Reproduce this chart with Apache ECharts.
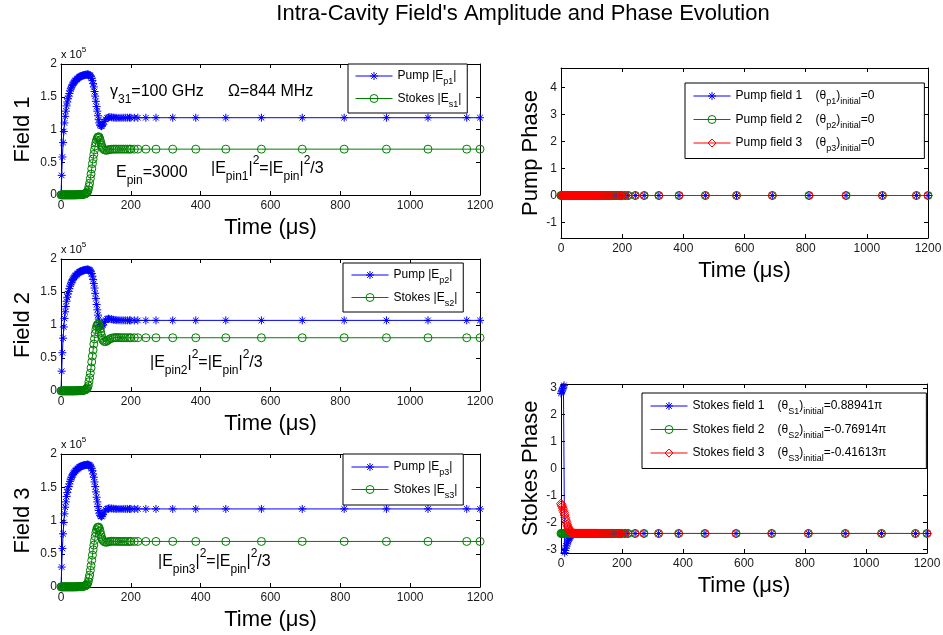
<!DOCTYPE html>
<html><head><meta charset="utf-8">
<script src="https://cdn.jsdelivr.net/npm/echarts@6/dist/echarts.min.js"></script>
<style>html,body{margin:0;padding:0;background:#fff}#c{width:943px;height:635px}</style>
</head><body><div id="c"></div>
<script>
// ---------- data (amplitudes in units of 1e5, phases in rad) ----------
const TIME = [0,2,4,6,8,10,12,14,16,18,
  20,22,24,26,28,30,32,34,36,38,
  40,42,44,46,48,50,52,54,56,58,
  60,62,64,66,68,70,72,74,76,78,
  80,82,84,86,88,90,92,94,96,98,
  100,102,104,106,108,110,112,114,116,118,
  120,124,128,132,136,140,145,150,155,160,
  166,172,178,184,190,196,200,
  210,220,243,272,320,386,472,574,691,811,932,1051,1162,1200];

const PUMP1 = [0,0.3,0.58,0.8,0.97,1.1,1.2,1.28,1.36,1.42,
  1.47,1.51,1.55,1.59,1.62,1.645,1.67,1.69,1.71,1.725,
  1.74,1.75,1.76,1.77,1.78,1.79,1.8,1.805,1.81,1.815,
  1.82,1.825,1.828,1.83,1.833,1.835,1.837,1.838,1.84,1.84,
  1.835,1.83,1.82,1.805,1.78,1.75,1.7,1.65,1.58,1.51,
  1.43,1.35,1.28,1.21,1.15,1.1,1.07,1.055,1.05,1.06,
  1.08,1.12,1.155,1.175,1.185,1.19,1.186,1.182,1.18,1.178,
  1.178,1.179,1.18,1.18,1.18,1.18,1.18,
  1.18,1.18,1.18,1.18,1.18,1.18,1.18,1.18,1.18,1.18,1.18,1.18,1.18,1.18];
const STOKES1 = [0.002,0.002,0.002,0.002,0.002,0.002,0.002,0.002,0.002,0.002,
  0.002,0.002,0.002,0.002,0.002,0.002,0.002,0.002,0.002,0.002,
  0.003,0.003,0.003,0.003,0.004,0.004,0.005,0.005,0.006,0.007,
  0.008,0.009,0.011,0.013,0.016,0.02,0.026,0.035,0.05,0.08,
  0.13,0.18,0.25,0.32,0.4,0.48,0.55,0.62,0.69,0.75,
  0.8,0.84,0.87,0.885,0.89,0.875,0.84,0.8,0.76,0.73,
  0.71,0.69,0.683,0.685,0.69,0.695,0.698,0.7,0.7,0.7,
  0.7,0.7,0.7,0.7,0.7,0.7,0.7,
  0.7,0.7,0.7,0.7,0.7,0.7,0.7,0.7,0.7,0.7,0.7,0.7,0.7,0.7];
const PUMP2 = [0,0.3,0.58,0.8,0.97,1.1,1.2,1.28,1.36,1.42,
  1.47,1.51,1.55,1.59,1.62,1.645,1.67,1.69,1.71,1.725,
  1.74,1.75,1.76,1.77,1.78,1.79,1.8,1.805,1.81,1.815,
  1.82,1.825,1.828,1.83,1.833,1.835,1.837,1.838,1.84,1.84,
  1.835,1.83,1.82,1.805,1.78,1.74,1.69,1.63,1.56,1.48,
  1.4,1.31,1.23,1.15,1.09,1.04,1.0,0.985,0.98,0.99,
  1.0,1.04,1.075,1.09,1.095,1.093,1.087,1.08,1.076,1.073,
  1.072,1.071,1.07,1.07,1.07,1.07,1.07,
  1.07,1.07,1.07,1.07,1.07,1.07,1.07,1.07,1.07,1.07,1.07,1.07,1.07,1.07];
const STOKES2 = [0.002,0.002,0.002,0.002,0.002,0.002,0.002,0.002,0.002,0.002,
  0.002,0.002,0.002,0.002,0.002,0.002,0.002,0.002,0.002,0.002,
  0.003,0.003,0.003,0.003,0.004,0.004,0.005,0.005,0.006,0.007,
  0.008,0.009,0.011,0.013,0.016,0.02,0.026,0.035,0.05,0.08,
  0.14,0.2,0.27,0.35,0.44,0.53,0.62,0.71,0.79,0.87,
  0.93,0.98,1.0,1.015,1.01,0.98,0.94,0.89,0.84,0.8,
  0.77,0.75,0.748,0.76,0.775,0.79,0.8,0.806,0.809,0.81,
  0.809,0.808,0.807,0.807,0.807,0.807,0.807,
  0.807,0.807,0.807,0.807,0.807,0.807,0.807,0.807,0.807,0.807,0.807,0.807,0.807,0.807];
const PUMP3 = [0,0.3,0.58,0.8,0.97,1.1,1.2,1.28,1.36,1.42,
  1.47,1.51,1.55,1.59,1.62,1.645,1.67,1.69,1.71,1.725,
  1.74,1.75,1.76,1.77,1.78,1.79,1.8,1.805,1.81,1.815,
  1.82,1.825,1.828,1.83,1.833,1.835,1.837,1.838,1.84,1.84,
  1.835,1.83,1.82,1.805,1.78,1.75,1.7,1.65,1.58,1.51,
  1.43,1.35,1.28,1.21,1.15,1.11,1.08,1.065,1.06,1.07,
  1.09,1.13,1.16,1.175,1.18,1.183,1.18,1.177,1.175,1.174,
  1.174,1.174,1.174,1.174,1.174,1.174,1.174,
  1.174,1.174,1.174,1.174,1.174,1.174,1.174,1.174,1.174,1.174,1.174,1.174,1.174,1.174];
const STOKES3 = [0.002,0.002,0.002,0.002,0.002,0.002,0.002,0.002,0.002,0.002,
  0.002,0.002,0.002,0.002,0.002,0.002,0.002,0.002,0.002,0.002,
  0.003,0.003,0.003,0.003,0.004,0.004,0.005,0.005,0.006,0.007,
  0.008,0.009,0.011,0.013,0.016,0.02,0.026,0.035,0.05,0.08,
  0.13,0.18,0.25,0.32,0.4,0.48,0.56,0.63,0.7,0.76,
  0.82,0.86,0.89,0.9,0.9,0.88,0.84,0.79,0.75,0.72,
  0.7,0.68,0.673,0.675,0.68,0.685,0.688,0.688,0.687,0.686,
  0.685,0.685,0.685,0.685,0.685,0.685,0.685,
  0.685,0.685,0.685,0.685,0.685,0.685,0.685,0.685,0.685,0.685,0.685,0.685,0.685,0.685];

const PUMP_PHASE1 = [0,0,0,0,0,0,0,0,0,0, 0,0,0,0,0,0,0,0,0,0, 0,0,0,0,0,0,0,0,0,0,
  0,0,0,0,0,0,0,0,0,0, 0,0,0,0,0,0,0,0,0,0, 0,0,0,0,0,0,0,0,0,0,
  0,0,0,0,0,0,0,0,0,0, 0,0,0,0,0,0,0, 0,0,0,0,0,0,0,0,0,0,0,0,0,0];
const PUMP_PHASE2 = [0,0,0,0,0,0,0,0,0,0, 0,0,0,0,0,0,0,0,0,0, 0,0,0,0,0,0,0,0,0,0,
  0,0,0,0,0,0,0,0,0,0, 0,0,0,0,0,0,0,0,0,0, 0,0,0,0,0,0,0,0,0,0,
  0,0,0,0,0,0,0,0,0,0, 0,0,0,0,0,0,0, 0,0,0,0,0,0,0,0,0,0,0,0,0,0];
const PUMP_PHASE3 = [0,0,0,0,0,0,0,0,0,0, 0,0,0,0,0,0,0,0,0,0, 0,0,0,0,0,0,0,0,0,0,
  0,0,0,0,0,0,0,0,0,0, 0,0,0,0,0,0,0,0,0,0, 0,0,0,0,0,0,0,0,0,0,
  0,0,0,0,0,0,0,0,0,0, 0,0,0,0,0,0,0, 0,0,0,0,0,0,0,0,0,0,0,0,0,0];

const STOKES_PHASE1 = [2.794,2.85,2.91,2.97,3.03,3.09,-3.13,-3.05,-2.96,-2.88,
  -2.8,-2.73,-2.67,-2.62,-2.57,-2.53,-2.5,-2.475,-2.46,-2.45,
  -2.44,-2.433,-2.428,-2.424,-2.421,-2.419,-2.418,-2.417,-2.416,-2.416,
  -2.416,-2.416,-2.416,-2.416,-2.416,-2.416,-2.416,-2.416,-2.416,-2.416,
  -2.416,-2.416,-2.416,-2.416,-2.416,-2.416,-2.416,-2.416,-2.416,-2.416,
  -2.416,-2.416,-2.416,-2.416,-2.416,-2.416,-2.416,-2.416,-2.416,-2.416,
  -2.416,-2.416,-2.416,-2.416,-2.416,-2.416,-2.416,-2.416,-2.416,-2.416,
  -2.416,-2.416,-2.416,-2.416,-2.416,-2.416,-2.416,
  -2.416,-2.416,-2.416,-2.416,-2.416,-2.416,-2.416,-2.416,-2.416,-2.416,-2.416,-2.416,-2.416,-2.416];
const STOKES_PHASE2 = [-2.416,-2.416,-2.416,-2.416,-2.416,-2.416,-2.416,-2.416,-2.416,-2.416,
  -2.416,-2.416,-2.416,-2.416,-2.416,-2.416,-2.416,-2.416,-2.416,-2.416,
  -2.416,-2.416,-2.416,-2.416,-2.416,-2.416,-2.416,-2.416,-2.416,-2.416,
  -2.416,-2.416,-2.416,-2.416,-2.416,-2.416,-2.416,-2.416,-2.416,-2.416,
  -2.416,-2.416,-2.416,-2.416,-2.416,-2.416,-2.416,-2.416,-2.416,-2.416,
  -2.416,-2.416,-2.416,-2.416,-2.416,-2.416,-2.416,-2.416,-2.416,-2.416,
  -2.416,-2.416,-2.416,-2.416,-2.416,-2.416,-2.416,-2.416,-2.416,-2.416,
  -2.416,-2.416,-2.416,-2.416,-2.416,-2.416,-2.416,
  -2.416,-2.416,-2.416,-2.416,-2.416,-2.416,-2.416,-2.416,-2.416,-2.416,-2.416,-2.416,-2.416,-2.416];
const STOKES_PHASE3 = [-1.307,-1.35,-1.41,-1.48,-1.56,-1.64,-1.73,-1.83,-1.92,-2.0,
  -2.08,-2.15,-2.21,-2.26,-2.3,-2.335,-2.36,-2.378,-2.39,-2.4,
  -2.405,-2.409,-2.412,-2.414,-2.415,-2.416,-2.416,-2.416,-2.416,-2.416,
  -2.416,-2.416,-2.416,-2.416,-2.416,-2.416,-2.416,-2.416,-2.416,-2.416,
  -2.416,-2.416,-2.416,-2.416,-2.416,-2.416,-2.416,-2.416,-2.416,-2.416,
  -2.416,-2.416,-2.416,-2.416,-2.416,-2.416,-2.416,-2.416,-2.416,-2.416,
  -2.416,-2.416,-2.416,-2.416,-2.416,-2.416,-2.416,-2.416,-2.416,-2.416,
  -2.416,-2.416,-2.416,-2.416,-2.416,-2.416,-2.416,
  -2.416,-2.416,-2.416,-2.416,-2.416,-2.416,-2.416,-2.416,-2.416,-2.416,-2.416,-2.416,-2.416,-2.416];

const AMP_TICKS = [0, 0.5, 1, 1.5, 2];
const TIME_TICKS = [0, 200, 400, 600, 800, 1000, 1200];
const PUMP_PHASE_TICKS = [-1, 0, 1, 2, 3, 4];
const STOKES_PHASE_TICKS = [-3, -2, -1, 0, 1, 2, 3];

// ---------- styling ----------
const FONT = '"Liberation Sans", Arial, Helvetica, sans-serif';
const BLUE = '#0000ff', GREEN = '#008000', RED = '#ff0000';
const STAR = 'path://M5,0L5,10M0,5L10,5M1.5,1.5L8.5,8.5M1.5,8.5L8.5,1.5';

const GRIDS = [
  {left: 61, top: 64, width: 419, height: 131},
  {left: 61, top: 259, width: 419, height: 132},
  {left: 61, top: 454, width: 419, height: 133},
  {left: 561, top: 68, width: 367, height: 170},
  {left: 561, top: 384, width: 366, height: 169}
];
const YNAMES = ['Field 1', 'Field 2', 'Field 3', 'Pump Phase', 'Stokes Phase'];
const YGAPS = [27, 27, 27, 17, 17];

const lineAx = {show: true, onZero: false, lineStyle: {color: '#000', width: 1}};
const tickAx = {show: true, inside: true, length: 4, lineStyle: {color: '#000', width: 1}};
const lblStyle = {fontSize: 12, color: '#1a1a1a', fontFamily: FONT, formatter: v => String(v)};

const xAxes = [], yAxes = [];
GRIDS.forEach((g, gi) => {
  xAxes.push({type: 'value', gridIndex: gi, min: TIME_TICKS[0], max: TIME_TICKS[TIME_TICKS.length - 1], interval: 200,
    position: 'bottom', name: 'Time (μs)', nameLocation: 'middle', nameGap: 22,
    nameTextStyle: {fontSize: 22, fontFamily: FONT, color: '#000'},
    axisLine: lineAx, axisTick: tickAx, axisLabel: Object.assign({margin: 5}, lblStyle), splitLine: {show: false}});
  xAxes.push({type: 'value', gridIndex: gi, min: 0, max: 1200, interval: 200, position: 'top',
    axisLine: lineAx, axisTick: tickAx, axisLabel: {show: false}, splitLine: {show: false}});
  let yb;
  if (gi < 3) {
    yb = {min: AMP_TICKS[0], max: AMP_TICKS[AMP_TICKS.length - 1], interval: 0.5};
  } else if (gi === 3) {
    yb = {min: -Math.PI / 2, max: 3 * Math.PI / 2, customValues: PUMP_PHASE_TICKS};
  } else {
    yb = {min: -Math.PI, max: Math.PI, customValues: STOKES_PHASE_TICKS};
  }
  const mkY = (pos, main) => {
    const a = {type: 'value', gridIndex: gi, min: yb.min, max: yb.max, position: pos,
      axisLine: lineAx, splitLine: {show: false},
      axisTick: Object.assign({}, tickAx),
      axisLabel: main ? Object.assign({margin: 4}, lblStyle) : {show: false}};
    if (yb.interval) a.interval = yb.interval;
    if (yb.customValues) {
      a.axisTick.customValues = yb.customValues;
      if (main) a.axisLabel.customValues = yb.customValues;
    }
    if (main) {
      a.name = YNAMES[gi]; a.nameLocation = 'middle'; a.nameGap = YGAPS[gi];
      a.nameTextStyle = {fontSize: 22, fontFamily: FONT, color: '#000'};
    }
    return a;
  };
  yAxes.push(mkY('left', true));
  yAxes.push(mkY('right', false));
});

function mk(name, vals, color, symbol, size, gi) {
  return {
    name: name, type: 'line', xAxisIndex: 2 * gi, yAxisIndex: 2 * gi,
    data: TIME.map((t, i) => [t, vals[i]]),
    symbol: symbol, symbolSize: size, showSymbol: true, showAllSymbol: true,
    lineStyle: {color: color, width: 1},
    itemStyle: {color: 'transparent', borderColor: color, borderWidth: 1},
    emphasis: {disabled: true}, animation: false
  };
}

const series = [
  mk('p1', PUMP1, BLUE, STAR, 8, 0), mk('s1', STOKES1, GREEN, 'circle', 8, 0),
  mk('p2', PUMP2, BLUE, STAR, 8, 1), mk('s2', STOKES2, GREEN, 'circle', 8, 1),
  mk('p3', PUMP3, BLUE, STAR, 8, 2), mk('s3', STOKES3, GREEN, 'circle', 8, 2),
  mk('pf1', PUMP_PHASE1, BLUE, STAR, 8, 3), mk('pf2', PUMP_PHASE2, GREEN, 'circle', 8, 3), mk('pf3', PUMP_PHASE3, RED, 'diamond', 9, 3),
  mk('sf1', STOKES_PHASE1, BLUE, STAR, 8, 4), mk('sf2', STOKES_PHASE2, GREEN, 'circle', 8, 4), mk('sf3', STOKES_PHASE3, RED, 'diamond', 9, 4)
];

const LEG_LABELS = {
  p1: '{n|Pump |E}{s|p1}{n||}', s1: '{n|Stokes |E}{s|s1}{n||}',
  p2: '{n|Pump |E}{s|p2}{n||}', s2: '{n|Stokes |E}{s|s2}{n||}',
  p3: '{n|Pump |E}{s|p3}{n||}', s3: '{n|Stokes |E}{s|s3}{n||}',
  pf1: '{a|Pump field 1}{n|(θ}{s|p1}{n|)}{s|initial}{n|=0}',
  pf2: '{a|Pump field 2}{n|(θ}{s|p2}{n|)}{s|initial}{n|=0}',
  pf3: '{a|Pump field 3}{n|(θ}{s|p3}{n|)}{s|initial}{n|=0}',
  sf1: '{b|Stokes field 1}{n|(θ}{s|S1}{n|)}{s|initial}{n|=0.88941π}',
  sf2: '{b|Stokes field 2}{n|(θ}{s|S2}{n|)}{s|initial}{n|=-0.76914π}',
  sf3: '{b|Stokes field 3}{n|(θ}{s|S3}{n|)}{s|initial}{n|=-0.41613π}'
};
const LEG_RICH = {
  n: {fontSize: 12, fontFamily: FONT, color: '#000'},
  s: {fontSize: 9, fontFamily: FONT, color: '#000', padding: [12, 0, 0, 0]},
  a: {fontSize: 12, fontFamily: FONT, color: '#000', width: 80},
  b: {fontSize: 12, fontFamily: FONT, color: '#000', width: 85}
};
function leg(names, left, top, padding, gap) {
  return {
    orient: 'vertical', left: left, top: top, data: names, padding: padding, itemGap: gap,
    itemWidth: 37, itemHeight: 10, borderColor: '#000', borderWidth: 1, backgroundColor: '#fff',
    selectedMode: false, formatter: n => LEG_LABELS[n],
    itemStyle: {borderWidth: 1}, lineStyle: {width: 1},
    textStyle: {fontSize: 12, fontFamily: FONT, color: '#000', rich: LEG_RICH}
  };
}
const legends = [
  leg(['p1', 's1'], 348, 64, [6, 6, 4, 7], 6),
  leg(['p2', 's2'], 343, 263, [6, 6, 4, 8], 6),
  leg(['p3', 's3'], 343, 454, [7, 6, 5, 8], 6),
  leg(['pf1', 'pf2', 'pf3'], 685, 83, [7, 50, 5, 8], 7),
  leg(['sf1', 'sf2', 'sf3'], 642, 393, [7, 40, 5, 8], 7)
];

const ANN_RICH = {
  n: {fontSize: 16, fontFamily: FONT, color: '#000'},
  s: {fontSize: 12, fontFamily: FONT, color: '#000', padding: [16, 0, 0, 0]},
  p: {fontSize: 12, fontFamily: FONT, color: '#000', padding: [0, 0, 16, 0]}
};
const MUL_RICH = {
  n: {fontSize: 11, fontFamily: FONT, color: '#000'},
  p: {fontSize: 8, fontFamily: FONT, color: '#000', padding: [0, 0, 10, 0]}
};
function txt(x, y, text, rich, align) {
  return {type: 'text', x: x, y: y, z: 100,
    style: {text: text, rich: rich, align: align || 'left', textAlign: align || 'left',
      verticalAlign: 'middle', textVerticalAlign: 'middle', fill: '#000'}};
}
const graphics = [
  {type: 'text', x: 523, y: 14, style: {text: "Intra-Cavity Field's Amplitude and Phase Evolution",
    fontSize: 22, fontFamily: FONT, fill: '#000', align: 'center', textAlign: 'center', verticalAlign: 'middle', textVerticalAlign: 'middle'}},
  txt(61, 55, '{n|x 10}{p|5}', MUL_RICH),
  txt(61, 250, '{n|x 10}{p|5}', MUL_RICH),
  txt(61, 445, '{n|x 10}{p|5}', MUL_RICH),
  txt(110, 92, '{n|γ}{s|31}{n|=100 GHz}', ANN_RICH),
  txt(228, 92, '{n|Ω=844 MHz}', ANN_RICH),
  txt(116, 173, '{n|E}{s|pin}{n|=3000}', ANN_RICH),
  txt(211, 169, '{n||E}{s|pin1}{n||}{p|2}{n|=|E}{s|pin}{n||}{p|2}{n|/3}', ANN_RICH),
  txt(150, 363, '{n||E}{s|pin2}{n||}{p|2}{n|=|E}{s|pin}{n||}{p|2}{n|/3}', ANN_RICH),
  txt(158, 562, '{n||E}{s|pin3}{n||}{p|2}{n|=|E}{s|pin}{n||}{p|2}{n|/3}', ANN_RICH)
];

const chart = echarts.init(document.getElementById('c'), null, {renderer: 'canvas'});
chart.setOption({
  animation: false,
  backgroundColor: '#fff',
  grid: GRIDS.map(g => Object.assign({outerBoundsMode: 'none', containLabel: false}, g)),
  xAxis: xAxes, yAxis: yAxes, legend: legends, series: series, graphic: graphics
});
</script></body></html>
